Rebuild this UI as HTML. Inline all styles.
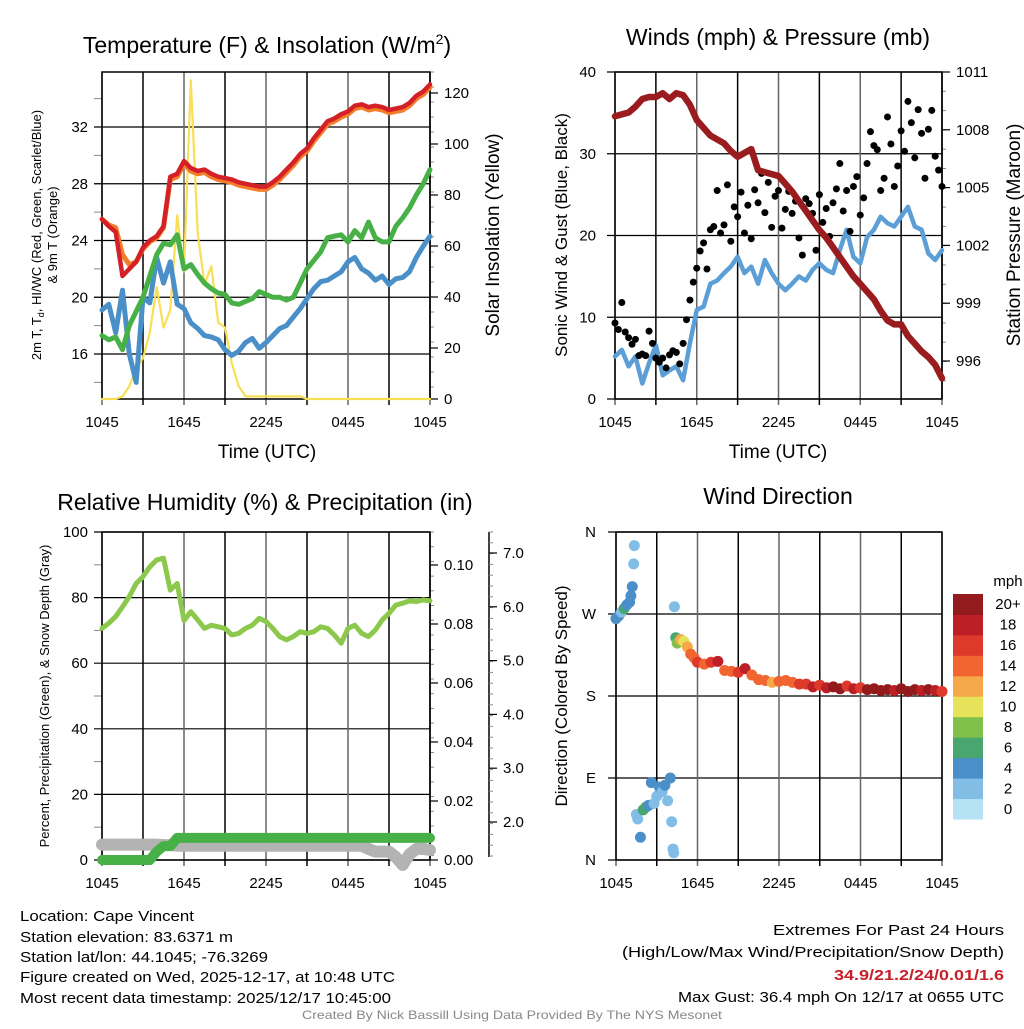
<!DOCTYPE html>
<html><head><meta charset="utf-8"><style>
body{margin:0;background:#fff}
svg text{font-family:"Liberation Sans",sans-serif}
</style></head><body>
<svg id="s" width="1024" height="1024" viewBox="0 0 1024 1024" xmlns="http://www.w3.org/2000/svg">
<rect width="1024" height="1024" fill="#fff"/>
<g id="g1"></g>
<g id="g2"></g>
<g id="g3"></g>
<g id="g4"></g>
<text x="267" y="53" font-size="23" text-anchor="middle">Temperature (F) &amp; Insolation (W/m<tspan font-size="14" dy="-9">2</tspan><tspan dy="9">)</tspan></text>
<text x="778" y="45" font-size="23" text-anchor="middle">Winds (mph) &amp; Pressure (mb)</text>
<text x="265" y="510" font-size="23" text-anchor="middle">Relative Humidity (%) &amp; Precipitation (in)</text>
<text x="778" y="504" font-size="23" text-anchor="middle">Wind Direction</text>
<text x="267" y="458" font-size="19" text-anchor="middle">Time (UTC)</text>
<text x="778" y="458" font-size="19" text-anchor="middle">Time (UTC)</text>
<text transform="translate(41,235) rotate(-90)" font-size="13" text-anchor="middle">2m T, T<tspan font-size="9" dy="3">d</tspan><tspan dy="-3">, HI/WC (Red, Green, Scarlet/Blue)</tspan></text>
<text transform="translate(57,235) rotate(-90)" font-size="13" text-anchor="middle">&amp; 9m T (Orange)</text>
<text transform="translate(499,235) rotate(-90)" font-size="19" text-anchor="middle">Solar Insolation (Yellow)</text>
<text transform="translate(567,235) rotate(-90)" font-size="17" text-anchor="middle">Sonic Wind &amp; Gust (Blue, Black)</text>
<text transform="translate(1020,235) rotate(-90)" font-size="19" text-anchor="middle">Station Pressure (Maroon)</text>
<text transform="translate(49,696) rotate(-90)" font-size="13" text-anchor="middle">Percent, Precipitation (Green), &amp; Snow Depth (Gray)</text>
<text transform="translate(567,696) rotate(-90)" font-size="17" text-anchor="middle">Direction (Colored By Speed)</text>
<g font-size="15">
<text x="20" y="921" textLength="174" lengthAdjust="spacingAndGlyphs">Location: Cape Vincent</text>
<text x="20" y="942" textLength="213" lengthAdjust="spacingAndGlyphs">Station elevation: 83.6371 m</text>
<text x="20" y="962" textLength="248" lengthAdjust="spacingAndGlyphs">Station lat/lon: 44.1045; -76.3269</text>
<text x="20" y="982" textLength="375" lengthAdjust="spacingAndGlyphs">Figure created on Wed, 2025-12-17, at 10:48 UTC</text>
<text x="20" y="1003" textLength="371" lengthAdjust="spacingAndGlyphs">Most recent data timestamp: 2025/12/17 10:45:00</text>
</g>
<g font-size="15">
<text x="773" y="935" textLength="231" lengthAdjust="spacingAndGlyphs">Extremes For Past 24 Hours</text>
<text x="622" y="957" textLength="382" lengthAdjust="spacingAndGlyphs">(High/Low/Max Wind/Precipitation/Snow Depth)</text>
<text x="834" y="980" textLength="170" lengthAdjust="spacingAndGlyphs" fill="#c8202a" font-weight="bold">34.9/21.2/24/0.01/1.6</text>
<text x="678" y="1002" textLength="326" lengthAdjust="spacingAndGlyphs">Max Gust: 36.4 mph On 12/17 at 0655 UTC</text>
</g>
<text x="302" y="1019" font-size="12" fill="#888" textLength="420" lengthAdjust="spacingAndGlyphs">Created By Nick Bassill Using Data Provided By The NYS Mesonet</text>
</svg>
<script>
// ---- data (half-hourly unless noted) ----
const tempRed=[25.5,25,24.6,21.5,22,22.5,23.5,24,24.3,25,28.5,28.7,29.6,29.1,28.9,29,28.7,28.5,28.4,28.3,28.1,28,27.9,27.8,27.8,28.1,28.5,29,29.5,30.1,30.5,31.2,31.8,32.4,32.6,32.9,33.1,33.5,33.6,33.4,33.5,33.4,33.2,33.3,33.4,33.7,34.2,34.5,35];
const temp9m=[25.5,25.1,24.9,23,22.3,22.5,23.4,23.9,24.2,24.9,28.3,28.5,29.4,28.9,28.7,28.8,28.5,28.3,28.2,28.1,27.9,27.8,27.7,27.6,27.6,27.9,28.3,28.8,29.3,29.9,30.3,31,31.6,32.2,32.4,32.7,32.9,33.3,33.4,33.2,33.3,33.2,33,33.1,33.2,33.5,34,34.3,34.8];
const dewGreen=[17.3,17,17.2,16.3,18,19,20,21.5,23,23.8,23.7,24.4,22,22.3,21.6,21,20.6,20.3,20.2,19.6,19.5,19.7,19.9,20.4,20.2,20,20,19.8,20,21,22,22.6,23.2,24.2,24.3,24.4,23.9,24.7,24.2,25.3,24.2,23.9,23.9,25,25.6,26.3,27.2,28,29];
const wcBlue=[19.1,19.5,17.5,20.5,16,14,20,19.6,22.8,21,22.5,19.5,19.2,18.2,17.8,17.3,17.2,17,16.3,15.9,16.2,16.8,17.1,16.4,16.8,17.3,17.8,18,18.6,19.2,19.9,20.6,21.1,21.2,21.5,21.8,22.5,22.8,22,21.7,21.2,21.5,20.9,21.3,21.4,21.8,22.8,23.6,24.3];
const solar=[0,0,0,1,5,12,16,26,44,28,35,72,50,125,65,45,52,30,28,14,5,1,1,1,1,1,1,1,1,1,0,0,0,0,0,0,0,0,0,0,0,0,0,0,0,0,0,0,0];
const pressure=[1008.7,1008.8,1008.9,1009.2,1009.6,1009.7,1009.7,1009.9,1009.6,1009.9,1009.8,1009.3,1008.5,1008.1,1007.7,1007.5,1007.3,1006.9,1006.6,1006.8,1007,1005.9,1005.8,1005.7,1005.6,1005.2,1004.8,1004.3,1003.8,1003.3,1002.8,1002.4,1001.9,1001.4,1000.9,1000.4,1000,999.6,999.2,998.6,998.1,997.9,997.9,997.3,996.9,996.5,996.2,995.8,995.1];
const windSpeed=[5.2,6,4,5.2,1.9,4.4,6.6,2.9,3.5,4,2.3,6.8,10.9,11.3,14.1,14.5,15.4,16.2,17.4,15.4,16.2,14.1,17,15.4,14.1,13.3,14.1,15,14.5,15.8,16.6,15.8,15.4,18.2,20.7,17.4,16.6,19.8,20.7,22.3,21.5,21.1,22.3,23.5,21.1,20.7,17.8,17,18.2];
// gusts every 15 minutes
const gusts=[9.3,8.5,11.8,8.2,7.5,6.7,7.3,5.3,5.5,5.3,8.3,6.8,5,4.5,5,3.8,5.4,5.9,5.7,4.3,6.8,9.7,12.1,14.3,16,18.1,19.1,15.9,20.7,21.1,25.5,20.3,21.3,26.2,19.3,23.5,22.3,25.3,20.3,23.7,19.6,25.6,24,27.6,22.8,26.5,21,24.8,25.5,20.9,23.2,25.4,22.7,24.2,19.7,17.6,24.5,23.9,22.7,18.2,25,21.6,23.3,19.9,24,25.7,28.8,23,25.5,20.5,26,27.2,22.5,24.6,28.8,32.7,31,30.5,25.5,27,34.5,31.2,26,28.5,32.8,30.3,36.4,33.8,29.5,35.4,32.5,27,33,35.3,29.7,28,26];
const humidity=[70.6,72.2,74.2,77.2,80.3,84.3,86.4,89.4,91.5,92,82.3,84.3,73,75.7,73.2,70.6,71.6,71.1,70.6,68.6,69.1,70.6,71.6,73.7,72.7,70.6,68.1,67.1,68.1,69.6,69.1,69.6,71.1,70.6,68.6,66.1,70.6,71.6,69.1,68.1,70.1,73.2,75.2,77.7,78.3,79,78.8,79.3,79];
const precip=[0,0,0,0,0,0,0,0,0.0028,0.0047,0.0047,0.0075,0.0075,0.0075,0.0075,0.0075,0.0075,0.0075,0.0075,0.0075,0.0075,0.0075,0.0075,0.0075,0.0075,0.0075,0.0075,0.0075,0.0075,0.0075,0.0075,0.0075,0.0075,0.0075,0.0075,0.0075,0.0075,0.0075,0.0075,0.0075,0.0075,0.0075,0.0075,0.0075,0.0075,0.0075,0.0075,0.0075,0.0075];
const snow=[1.58,1.58,1.58,1.58,1.58,1.58,1.58,1.58,1.58,1.57,1.57,1.56,1.56,1.56,1.56,1.56,1.56,1.56,1.56,1.56,1.56,1.56,1.56,1.56,1.56,1.56,1.56,1.56,1.56,1.56,1.56,1.56,1.56,1.56,1.56,1.56,1.56,1.56,1.56,1.5,1.45,1.45,1.45,1.35,1.2,1.4,1.5,1.5,1.48];
const dirTimes=[0,0.2,0.4,0.6,0.8,1,1.1,1.2,1.3,1.35,1.5,1.6,1.8,2,2.2,2.4,2.6,2.8,3,3.2,3.4,3.6,3.8,4,4.1,4.2,4.25,4.3,4.4,4.5,4.75,5,5.25,5.5,5.75,6,6.5,7,7.5,8,8.5,9,9.5,10,10.5,11,11.5,12,12.5,13,13.5,14,14.5,15,15.5,16,16.5,17,17.5,18,18.5,19,19.5,20,20.5,21,21.5,22,22.5,23,23.5,24];
const dirVals=[265,268,272,276,280,283,290,300,325,345,50,45,25,55,58,60,85,62,70,80,75,82,65,90,42,12,8,278,244,238,242,240,234,226,222,217,215,217,218,208,207,206,210,203,198,197,195,196,197,195,193,193,190,192,189,190,188,191,188,189,187,188,186,187,186,188,185,187,186,187,186,185];
const dirSpeeds=[4,4,3,6,4,4,4,4,2,2,2,2,4,6,6,4,4,3,2,4,2,4,2,4,2,2,2,2,6,8,12,10,12,14,14,16,14,16,18,14,14,16,18,14,14,14,12,14,14,14,16,16,18,16,18,20,20,16,18,16,20,20,20,20,18,20,20,20,18,20,18,16];
const timeLabels=["1045","1645","2245","0445","1045"];
const tempTicks=[16,20,24,28,32], solarTicks=[0,20,40,60,80,100,120];
const windTicks=[0,10,20,30,40], pressTicks=[996,999,1002,1005,1008,1011];
const rhTicks=[0,20,40,60,80,100], precipTicks=[0,0.02,0.04,0.06,0.08,0.10], snowTicks=[2,3,4,5,6,7];
const dirLabels=["N","E","S","W","N"], dirTicks=[0,90,180,270,360];
const cbLabels=["0","2","4","6","8","10","12","14","16","18","20+"];
const cbColors=["#b6e2f5","#82bde6","#4a8fc7","#4aa66f","#7fbf4a","#e6e25a","#f6a94a","#f06530","#de3a2b","#bd1f26","#931a1d"];

// ---- helpers ----
const NS="http://www.w3.org/2000/svg";
function mk(parent,tag,attrs,name){const e=document.createElementNS(NS,tag);for(const k in attrs)e.setAttribute(k,attrs[k]);


parent.appendChild(e);return e;}
function txt(parent,x,y,s,anchor,name,size){const t=mk(parent,'text',{x:x,y:y,'font-size':size||15,'text-anchor':anchor},name);t.textContent=s;return t;}
const half=humidity.map((_,i)=>i*0.5);
const quarter=gusts.map((_,i)=>i*0.25);
function lin(d0,d1,r0,r1){return v=>r0+(v-d0)*(r1-r0)/(d1-d0);}
function path(g,xs,ys,fx,fy,stroke,w,name){let d='';xs.forEach((t,i)=>{d+=(i?'L':'M')+fx(t).toFixed(1)+' '+fy(ys[i]).toFixed(1);});
return mk(g,'path',{d:d,fill:'none',stroke:stroke,'stroke-width':w,'stroke-linejoin':'round','stroke-linecap':'round'},name);}
function frame(g,x0,x1,y0,y1,fx){
  for(let h=0;h<=24;h+=3){const x=fx(h);mk(g,'line',{x1:x,x2:x,y1:y0,y2:y1+6,stroke:h%6?'#000':'#666','stroke-width':1.5},'x-gridline');}
  timeLabels.forEach((s,i)=>txt(g,fx(i*6),y1+28,s,'middle','x-tick-label'));
  mk(g,'rect',{x:x0,y:y0,width:x1-x0,height:y1-y0,fill:'none',stroke:'#000','stroke-width':1.5},'plot-frame');
}
function hgrid(g,x0,x1,ticks,fy,labels,lx,name){ticks.forEach((v,i)=>{const y=fy(v);mk(g,'line',{x1:x0-8,x2:x1,y1:y,y2:y,stroke:'#000','stroke-width':1.2},name+'-gridline');
 txt(g,lx,y+5,labels?labels[i]:String(v),'end',name+'-tick-label');});}
function rticks(g,x,ticks,fy,fmt,name,y0,y1,minor){mk(g,'line',{x1:x,x2:x,y1:y0,y2:y1,stroke:'#000','stroke-width':1.5},name+'-axis-line');
 if(minor){for(let y=y0;y<=y1;y+=minor)mk(g,'line',{x1:x,x2:x+4,y1:y,y2:y,stroke:'#888','stroke-width':1},name+'-minor-tick');}
 ticks.forEach(v=>{const y=fy(v);mk(g,'line',{x1:x,x2:x+8,y1:y,y2:y,stroke:'#000','stroke-width':1.2},name+'-tick');txt(g,x+14,y+5,fmt(v),'start',name+'-tick-label');});}

// ---- panel 1 ----
{const g=document.getElementById('g1');const fx=lin(0,24,102,430);const fy=lin(16,32,354,127);const fs=lin(0,120,399,93);
 for(let v=14;v<=34;v+=2)mk(g,'line',{x1:94,x2:102,y1:fy(v),y2:fy(v),stroke:'#888'},'temp-minor-tick');
 hgrid(g,102,430,tempTicks,fy,null,88,'temp');
 rticks(g,430,solarTicks,fs,v=>String(v),'solar',72,399,15);
 frame(g,102,430,72,399,fx);
 path(g,half,solar,fx,fs,'#f8df55',2.2,'solar-line');
 path(g,half,wcBlue,fx,fy,'#4a8fc7',5,'windchill-line');
 path(g,half,dewGreen,fx,fy,'#47b046',5,'dewpoint-line');
 path(g,half,temp9m,fx,fy,'#f47d2a',5,'temp-9m-line');
 path(g,half,tempRed,fx,fy,'#d42128',4.5,'temp-2m-line');}

// ---- panel 2 ----
{const g=document.getElementById('g2');const fx=lin(0,24,615,942);const fy=lin(0,40,399,72);const fp=lin(996,1011,361,72);
 hgrid(g,615,942,windTicks,fy,null,596,'wind');
 rticks(g,942,pressTicks,fp,v=>String(v),'pressure',72,399,19.3);
 frame(g,615,942,72,399,fx);
 path(g,half,windSpeed,fx,fy,'#5b9fd6',4.5,'wind-speed-line');
 gusts.forEach((v,i)=>{mk(g,'circle',{cx:fx(quarter[i]),cy:fy(v),r:3.5,fill:'#000'},'gust-point');});
 path(g,half,pressure,fx,fp,'#9a1c1f',6.5,'pressure-line');}

// ---- panel 3 ----
{const g=document.getElementById('g3');const fx=lin(0,24,102,430);const fy=lin(0,100,860,532);const fpr=lin(0,0.1,860,565);const fsn=lin(2,7,822,553);
 for(let v=10;v<100;v+=20)mk(g,'line',{x1:94,x2:102,y1:fy(v),y2:fy(v),stroke:'#888'},'rh-minor-tick');
 hgrid(g,102,430,rhTicks,fy,null,88,'rh');
 rticks(g,430,precipTicks,fpr,v=>v.toFixed(2),'precip',532,860,14.7);
 rticks(g,489,snowTicks,fsn,v=>v.toFixed(1),'snow',532,857,10.8);
 frame(g,102,430,532,860,fx);
 path(g,half,snow,fx,fsn,'#b3b3b3',12,'snow-depth-line');
 path(g,half,precip,fx,fpr,'#47b046',10,'precip-line');
 path(g,half,humidity,fx,fy,'#8cc84b',5,'humidity-line');}

// ---- panel 4 ----
{const g=document.getElementById('g4');const fx=lin(0,24,616,942);const fy=lin(0,360,860,532);
 hgrid(g,616,942,dirTicks,fy,dirLabels,596,'direction');
 frame(g,616,942,532,860,fx);
 dirVals.forEach((v,i)=>{const b=Math.min(10,Math.floor(dirSpeeds[i]/2));
  mk(g,'circle',{cx:fx(dirTimes[i]),cy:fy(v),r:5.5,fill:cbColors[b]},'direction-point');});
 txt(g,1008,586,'mph','middle','colorbar-title');
 const h=225/11;
 cbColors.forEach((c,i)=>{const y=819-(i+1)*h;mk(g,'rect',{x:953,y:y,width:30,height:h+0.5,fill:c},'colorbar-segment');
  txt(g,1008,y+h/2+5,cbLabels[i],'middle','colorbar-label');});}
</script>
</body></html>
